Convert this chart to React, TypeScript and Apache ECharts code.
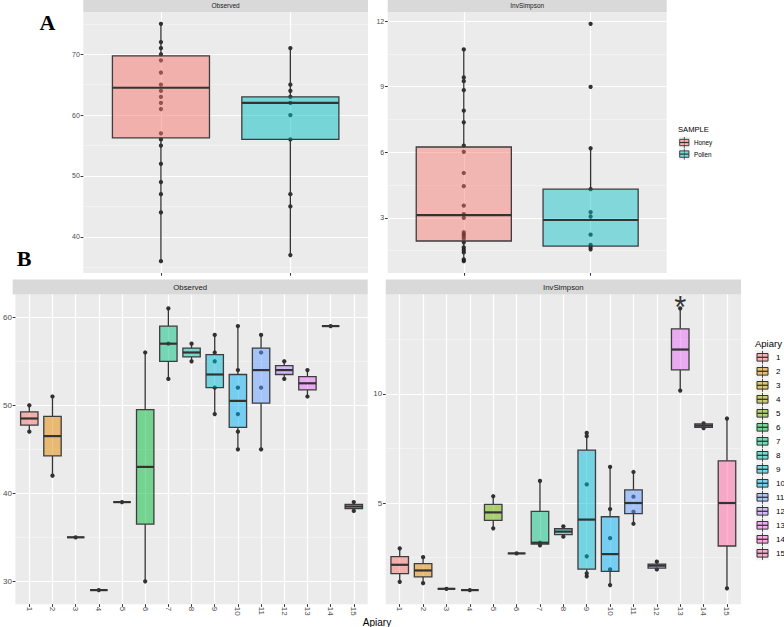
import React, { useEffect, useRef } from 'react';
import * as echarts from 'echarts';

// ---------- categories & colours ----------
const sampleCats = ['Honey', 'Pollen'];
const sampleColors = ['#F8766D', '#00BFC4'];
const apiaryCats = ['1', '2', '3', '4', '5', '6', '7', '8', '9', '10', '11', '12', '13', '14', '15'];
const apiaryColors = ['#F8766D', '#E58700', '#C99800', '#A3A500', '#6BB100', '#00BA38', '#00BF7D', '#00C0AF',
  '#00BCD8', '#00B0F6', '#619CFF', '#B983FF', '#E76BF3', '#FD61D1', '#FF67A4'];

// ---------- A: Observed (min, Q1, median, Q3, max) ----------
const obsAStats = [
  [36, 56.25, 64.5, 69.75, 75],
  [37, 56, 62, 63, 71],
];
const obsAPoints = [
  [75, 72, 71, 70, 69, 67, 65, 64, 63, 62, 61, 57, 56, 55, 52, 49, 47, 44, 36],
  [71, 65, 64, 63, 62, 60, 56, 47, 45, 37],
];
// ---------- A: InvSimpson ----------
const invAStats = [
  [1.02, 1.94, 3.12, 6.24, 10.7],
  [1.56, 1.71, 2.9, 4.31, 6.18],
];
const invAPoints = [
  [10.7, 9.42, 9.25, 8.84, 7.9, 7.37, 6.3, 6.02, 5.05, 4.45, 3.56, 3.17, 3.0, 2.34, 2.25, 2.16, 2.05, 1.88, 1.65, 1.53, 1.42, 1.1, 1.02],
  [11.87, 8.99, 6.18, 4.31, 3.26, 3.06, 2.23, 1.76, 1.67, 1.56],
];
// ---------- B: Observed ----------
const obsBStats = [
  [47, 47.75, 48.5, 49.25, 50],
  [42, 44.25, 46.5, 48.75, 51],
  [35, 35, 35, 35, 35],
  [29, 29, 29, 29, 29],
  [39, 39, 39, 39, 39],
  [30, 36.5, 43, 49.5, 56],
  [53, 55, 57, 59, 61],
  [55, 55.5, 56, 56.5, 57],
  [49, 52, 53.5, 55.75, 58],
  [45, 47.5, 50.5, 53.5, 59],
  [45, 50.25, 54, 56.5, 58],
  [53, 53.5, 54, 54.5, 55],
  [51, 51.75, 52.5, 53.25, 54],
  [59, 59, 59, 59, 59],
  [38, 38.25, 38.5, 38.75, 39],
];
const obsBPoints = [
  [50, 47], [51, 42], [35], [29], [39], [56, 30], [61, 57, 53], [57, 55],
  [58, 56, 55, 52, 49], [59, 54, 52, 49, 47, 45], [58, 56, 52, 45], [55, 53], [54, 51], [59], [39, 38],
];
// ---------- B: InvSimpson ----------
const invBStats = [
  [1.39, 1.77, 2.17, 2.54, 2.92],
  [1.33, 1.62, 1.91, 2.22, 2.52],
  [1.07, 1.07, 1.07, 1.07, 1.07],
  [1.01, 1.01, 1.01, 1.01, 1.01],
  [3.84, 4.2, 4.57, 4.94, 5.31],
  [2.69, 2.69, 2.69, 2.69, 2.69],
  [3.06, 3.12, 3.18, 4.62, 6.01],
  [3.46, 3.55, 3.69, 3.82, 3.93],
  [1.64, 1.97, 4.24, 7.42, 8.21],
  [1.24, 1.87, 2.66, 4.37, 6.65],
  [4.05, 4.51, 5.0, 5.6, 6.42],
  [1.96, 2.02, 2.13, 2.2, 2.31],
  [10.15, 11.1, 12.03, 12.98, 13.91],
  [8.43, 8.47, 8.55, 8.62, 8.65],
  [1.09, 3.03, 5.0, 6.93, 8.87],
];
const invBPoints = [
  [2.92, 1.39], [2.52, 1.33], [1.07], [1.01], [5.31, 3.84], [2.69], [6.01, 3.18, 3.06], [3.93, 3.46],
  [8.21, 8.06, 5.85, 2.56, 1.78, 1.64], [6.65, 4.72, 3.39, 1.96, 1.24], [6.42, 5.29, 4.6, 4.05],
  [2.31, 1.96], [13.91, 10.15], [8.65, 8.43], [8.87, 1.09],
];
const invBAnnotations = [{ apiary: 13, value: 14.3, text: '*' }];

// ---------- tick labels ----------
const obsATicks = [40, 50, 60, 70];
const obsAMinor = [35, 45, 55, 65, 75];
const invATicks = [3, 6, 9, 12];
const invAMinor = [1.5, 4.5, 7.5, 10.5];
const obsBTicks = [30, 40, 50, 60];
const obsBMinor = [35, 45, 55];
const invBTicks = [5, 10];
const invBMinor = [2.5, 7.5, 12.5];

const FONT = '"Liberation Sans", Arial, sans-serif';

function hexToRgba(hex: string, a: number) {
  const r = parseInt(hex.slice(1, 3), 16);
  const g = parseInt(hex.slice(3, 5), 16);
  const b = parseInt(hex.slice(5, 7), 16);
  return `rgba(${r},${g},${b},${a})`;
}

function expandRange(stats: number[][], points: number[][]) {
  const all = [...stats.flat(), ...points.flat()];
  const mn = Math.min(...all);
  const mx = Math.max(...all);
  const d = mx - mn;
  return [mn - 0.05 * d, mx + 0.05 * d];
}

const makeRender = (palette: string[], alpha: number, lw: number, medW: number) => (params: any, api: any) => {
  const x = api.value(0);
  const v = [1, 2, 3, 4, 5].map((k) => api.value(k));
  const p = v.map((val) => api.coord([x, val]));
  const half = api.size([0.75, 0])[0] / 2;
  const cx = p[0][0];
  const col = hexToRgba(palette[api.value(6)], alpha);
  const stroke = '#333333';
  return {
    type: 'group',
    children: [
      { type: 'line', shape: { x1: cx, y1: p[3][1], x2: cx, y2: p[4][1] }, style: { stroke, lineWidth: lw } },
      { type: 'line', shape: { x1: cx, y1: p[0][1], x2: cx, y2: p[1][1] }, style: { stroke, lineWidth: lw } },
      {
        type: 'rect',
        shape: { x: cx - half, y: p[3][1], width: half * 2, height: p[1][1] - p[3][1] },
        style: { fill: col, stroke: '#3d3d3d', lineWidth: lw },
      },
      { type: 'line', shape: { x1: cx - half, y1: p[2][1], x2: cx + half, y2: p[2][1] }, style: { stroke, lineWidth: medW } },
    ],
  };
};

type Panel = {
  left: number; top: number; width: number; height: number;
  strip: string; stripTop: number; stripH: number; stripFont: number;
  cats: string[]; colors: string[]; stats: number[][]; points: number[][];
  ticks: number[]; minor: number[]; showX: boolean; labelFont: number; alpha: number;
};

const panels: Panel[] = [
  { left: 83.3, top: 12, width: 284.7, height: 261, strip: 'Observed', stripTop: -2, stripH: 14, stripFont: 6.5,
    cats: sampleCats, colors: sampleColors, stats: obsAStats, points: obsAPoints, ticks: obsATicks, minor: obsAMinor,
    showX: false, labelFont: 7, alpha: 0.5 },
  { left: 387.7, top: 12, width: 279, height: 261, strip: 'InvSimpson', stripTop: -2, stripH: 14, stripFont: 6.5,
    cats: sampleCats, colors: sampleColors, stats: invAStats, points: invAPoints, ticks: invATicks, minor: invAMinor,
    showX: false, labelFont: 7, alpha: 0.45 },
  { left: 12.7, top: 294.4, width: 355, height: 309.8, strip: 'Observed', stripTop: 279.5, stripH: 14.9, stripFont: 7.8,
    cats: apiaryCats, colors: apiaryColors, stats: obsBStats, points: obsBPoints, ticks: obsBTicks, minor: obsBMinor,
    showX: true, labelFont: 8, alpha: 0.5 },
  { left: 385.7, top: 294.4, width: 355.3, height: 309.8, strip: 'InvSimpson', stripTop: 279.5, stripH: 14.9, stripFont: 7.8,
    cats: apiaryCats, colors: apiaryColors, stats: invBStats, points: invBPoints, ticks: invBTicks, minor: invBMinor,
    showX: true, labelFont: 8, alpha: 0.5 },
];

function buildOption() {
  const grid: any[] = [];
  const xAxis: any[] = [];
  const yAxis: any[] = [];
  const series: any[] = [];
  const graphic: any[] = [];

  panels.forEach((p, i) => {
    const n = p.cats.length;
    const catVals = p.cats.map((_, k) => k + 1);
    const [ymin, ymax] = expandRange(p.stats, p.points);
    grid.push({ left: p.left, top: p.top, width: p.width, height: p.height, show: true, backgroundColor: '#EBEBEB', borderWidth: 0 });
    xAxis.push({
      type: 'value', gridIndex: i, min: 0.4, max: n + 0.6,
      axisLine: { show: false },
      axisTick: { show: true, length: 2.7, lineStyle: { color: '#333333', width: 1 }, customValues: catVals },
      axisLabel: {
        show: p.showX, customValues: catVals, rotate: -90, fontSize: p.labelFont, color: '#4D4D4D', margin: 2.5,
        fontFamily: FONT, formatter: (v: number) => p.cats[Math.round(v) - 1] ?? '',
      },
      splitLine: { show: true, lineStyle: { color: '#FFFFFF', width: 1.2 } },
    });
    yAxis.push({
      type: 'value', gridIndex: i, min: ymin, max: ymax,
      axisLine: { show: false },
      axisTick: { show: true, length: 2.7, lineStyle: { color: '#333333', width: 1 }, customValues: p.ticks },
      axisLabel: { show: true, customValues: p.ticks, fontSize: p.labelFont, color: '#4D4D4D', margin: 3.5, fontFamily: FONT },
      splitLine: { show: true, lineStyle: { color: '#FFFFFF', width: 1.2 } },
    });
    yAxis.push({
      type: 'value', gridIndex: i, min: ymin, max: ymax, position: 'left',
      axisLine: { show: false },
      axisTick: { show: false, customValues: p.minor },
      axisLabel: { show: false, customValues: p.minor },
      splitLine: { show: true, lineStyle: { color: '#F7F7F7', width: 0.6 } },
    });

    const scatterData: number[][] = [];
    p.points.forEach((vals, k) => vals.forEach((v) => scatterData.push([k + 1, v])));
    series.push({
      type: 'scatter', xAxisIndex: i, yAxisIndex: 2 * i, data: scatterData, symbolSize: 4.3,
      itemStyle: { color: '#000000' }, z: 2, silent: true,
    });
    series.push({
      type: 'custom', xAxisIndex: i, yAxisIndex: 2 * i, z: 3, silent: true,
      renderItem: makeRender(p.colors, p.alpha, 1.3, 2.2),
      encode: { x: 0, y: [1, 2, 3, 4, 5] },
      data: p.stats.map((s, k) => [k + 1, ...s, k]),
    });

    // strip
    graphic.push({ type: 'rect', shape: { x: p.left, y: p.stripTop, width: p.width, height: p.stripH }, style: { fill: '#D9D9D9' }, silent: true });
    graphic.push({
      type: 'text', x: p.left + p.width / 2, y: p.stripTop + p.stripH / 2 + 0.5,
      style: { text: p.strip, fill: '#1A1A1A', font: `${p.stripFont}px ${FONT}`, textAlign: 'center', textVerticalAlign: 'middle' },
      silent: true,
    });
  });

  // significance annotation on B InvSimpson
  series.push({
    type: 'scatter', xAxisIndex: 3, yAxisIndex: 6, symbolSize: 0, z: 5, silent: true,
    data: invBAnnotations.map((a) => ({ value: [a.apiary, a.value], name: a.text })),
    label: { show: true, position: 'inside', formatter: (d: any) => d.name, fontSize: 31, color: '#000', fontFamily: FONT, offset: [0, 8] },
  });

  // panel letters
  graphic.push({ type: 'text', x: 47.5, y: 22, style: { text: 'A', fill: '#000', font: `bold 22px "Liberation Serif", "Times New Roman", serif`, textAlign: 'center', textVerticalAlign: 'middle' } });
  graphic.push({ type: 'text', x: 24, y: 258, style: { text: 'B', fill: '#000', font: `bold 22px "Liberation Serif", "Times New Roman", serif`, textAlign: 'center', textVerticalAlign: 'middle' } });

  // x axis title for B
  graphic.push({ type: 'text', x: 377, y: 622, style: { text: 'Apiary', fill: '#000', font: `10px ${FONT}`, textAlign: 'center', textVerticalAlign: 'middle' } });

  // legend A
  graphic.push({ type: 'text', x: 678, y: 129, style: { text: 'SAMPLE', fill: '#000', font: `7.6px ${FONT}`, textAlign: 'left', textVerticalAlign: 'middle' } });
  sampleCats.forEach((c, i) => {
    const cy = 142.5 + 11.6 * i;
    const cx = 684.3;
    graphic.push({ type: 'rect', shape: { x: cx - 5.8, y: cy - 5.8, width: 11.6, height: 11.6 }, style: { fill: '#F2F2F2' } });
    graphic.push({ type: 'line', shape: { x1: cx, y1: cy - 5.5, x2: cx, y2: cy + 5.5 }, style: { stroke: '#333', lineWidth: 0.8 } });
    graphic.push({ type: 'rect', shape: { x: cx - 4.6, y: cy - 3.2, width: 9.2, height: 6.4 }, style: { fill: hexToRgba(sampleColors[i], 0.5), stroke: '#333', lineWidth: 0.9 } });
    graphic.push({ type: 'line', shape: { x1: cx - 4.6, y1: cy, x2: cx + 4.6, y2: cy }, style: { stroke: '#333', lineWidth: 1.2 } });
    graphic.push({ type: 'text', x: 694, y: cy, style: { text: c, fill: '#000', font: `6.3px ${FONT}`, textAlign: 'left', textVerticalAlign: 'middle' } });
  });

  // legend B
  graphic.push({ type: 'text', x: 755, y: 343, style: { text: 'Apiary', fill: '#000', font: `9.5px ${FONT}`, textAlign: 'left', textVerticalAlign: 'middle' } });
  apiaryCats.forEach((c, i) => {
    const cy = 357.3 + 14 * i;
    const cx = 762.5;
    graphic.push({ type: 'rect', shape: { x: cx - 7, y: cy - 7, width: 14, height: 14 }, style: { fill: '#F2F2F2' } });
    graphic.push({ type: 'line', shape: { x1: cx, y1: cy - 6.5, x2: cx, y2: cy + 6.5 }, style: { stroke: '#333', lineWidth: 0.9 } });
    graphic.push({ type: 'rect', shape: { x: cx - 5.5, y: cy - 3.8, width: 11, height: 7.6 }, style: { fill: hexToRgba(apiaryColors[i], 0.5), stroke: '#333', lineWidth: 1 } });
    graphic.push({ type: 'line', shape: { x1: cx - 5.5, y1: cy, x2: cx + 5.5, y2: cy }, style: { stroke: '#333', lineWidth: 1.3 } });
    graphic.push({ type: 'text', x: 776, y: cy, style: { text: c, fill: '#000', font: `8px ${FONT}`, textAlign: 'left', textVerticalAlign: 'middle' } });
  });

  return {
    animation: false,
    backgroundColor: '#FFFFFF',
    textStyle: { fontFamily: FONT },
    grid, xAxis, yAxis, series, graphic,
  };
}

export default function App() {
  const ref = useRef<HTMLDivElement>(null);
  useEffect(() => {
    if (!ref.current) return;
    const chart = echarts.init(ref.current, undefined, { renderer: 'svg' });
    chart.setOption(buildOption() as any);
    return () => chart.dispose();
  }, []);
  return <div ref={ref} style={{ position: 'fixed', left: 0, top: 0, width: 784, height: 627 }} />;
}
